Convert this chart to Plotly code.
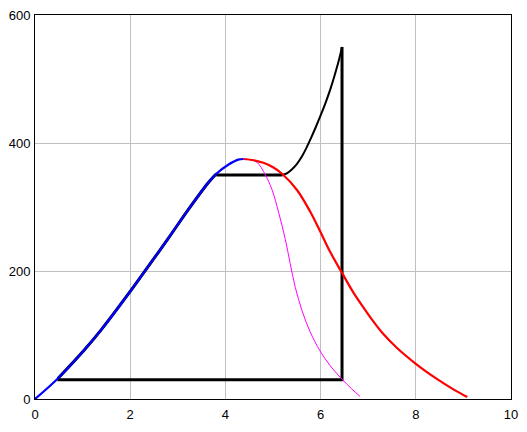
import plotly.graph_objects as go

# Blue rising curve
blue_x = [0.0, 0.48, 1.04, 1.39, 2.0, 2.3, 2.8, 3.22, 3.64, 3.81, 4.06, 4.27, 4.38]
blue_y = [0, 32, 77, 108, 168, 199, 251, 296, 338, 352, 366, 374, 375]

# Red falling curve
red_x = [4.38, 4.6, 4.8, 5.0, 5.19, 5.5, 5.78, 5.99, 6.2, 6.45, 6.7, 6.9, 7.1, 7.3, 7.6, 8.0, 8.45, 8.79, 9.08]
red_y = [375, 373, 369, 362, 352, 327, 293, 262, 230, 197, 165, 143, 122, 103, 80, 55, 31, 15, 3]

# Magenta falling curve
mag_x = [4.38, 4.5, 4.66, 4.84, 4.98, 5.12, 5.26, 5.36, 5.47, 5.61, 5.78, 5.99, 6.2, 6.45, 6.65, 6.83]
mag_y = [375, 374, 370, 350, 327, 291, 249, 212, 174, 138, 105, 75, 52, 31, 16, 4]

# Black cycle: rising curve and straight segments
rise_x = [5.2, 5.3, 5.4, 5.5, 5.6, 5.7, 5.8, 5.9, 6.0, 6.1, 6.2, 6.3, 6.4, 6.45]
rise_y = [350, 353, 359, 367, 378, 392, 408, 425, 443, 462, 483, 507, 534, 550]
upper_x = [3.81, 5.2]
upper_y = [350, 350]
frame_x = [6.45, 6.45, 0.47]
frame_y = [550, 30, 30]

# Ticks
x_ticks = [0, 2, 4, 6, 8, 10]
y_ticks = [0, 200, 400, 600]

fig = go.Figure()
fig.add_trace(go.Scatter(x=blue_x[1:10], y=blue_y[1:10], mode="lines",
                         line=dict(color="black", width=3, shape="spline"), hoverinfo="skip"))
fig.add_trace(go.Scatter(x=upper_x, y=upper_y, mode="lines",
                         line=dict(color="black", width=3)))
fig.add_trace(go.Scatter(x=rise_x, y=rise_y, mode="lines",
                         line=dict(color="black", width=2, shape="spline")))
fig.add_trace(go.Scatter(x=frame_x, y=frame_y, mode="lines",
                         line=dict(color="black", width=3)))
fig.add_trace(go.Scatter(x=mag_x, y=mag_y, mode="lines",
                         line=dict(color="#ff00ff", width=1, shape="spline")))
fig.add_trace(go.Scatter(x=red_x, y=red_y, mode="lines",
                         line=dict(color="#ff0000", width=2.2, shape="spline")))
fig.add_trace(go.Scatter(x=blue_x, y=blue_y, mode="lines",
                         line=dict(color="#0000ff", width=2.2, shape="spline")))

fig.update_layout(
    width=527, height=432,
    margin=dict(l=35, r=16, t=15, b=33, autoexpand=False),
    paper_bgcolor="white", plot_bgcolor="white",
    showlegend=False,
    font=dict(family="Liberation Sans, Arial, sans-serif", size=13, color="black"),
)
fig.update_xaxes(range=[0, 10], tickvals=x_ticks, ticktext=[str(v) for v in x_ticks],
                 showgrid=True, gridcolor="#c0c0c0", gridwidth=1,
                 showline=True, linecolor="black", linewidth=1, mirror=True,
                 zeroline=False, ticks="", ticklabelstandoff=3, automargin=False)
fig.update_yaxes(range=[0, 600], tickvals=y_ticks, ticktext=[str(v) for v in y_ticks],
                 showgrid=True, gridcolor="#c0c0c0", gridwidth=1,
                 showline=True, linecolor="black", linewidth=1, mirror=True,
                 zeroline=False, ticks="", ticklabelstandoff=1, automargin=False)

fig.write_html("out.html", config={"displayModeBar": False},
               post_script="document.body.style.margin='0';document.body.style.padding='0';document.body.style.overflow='hidden';")
